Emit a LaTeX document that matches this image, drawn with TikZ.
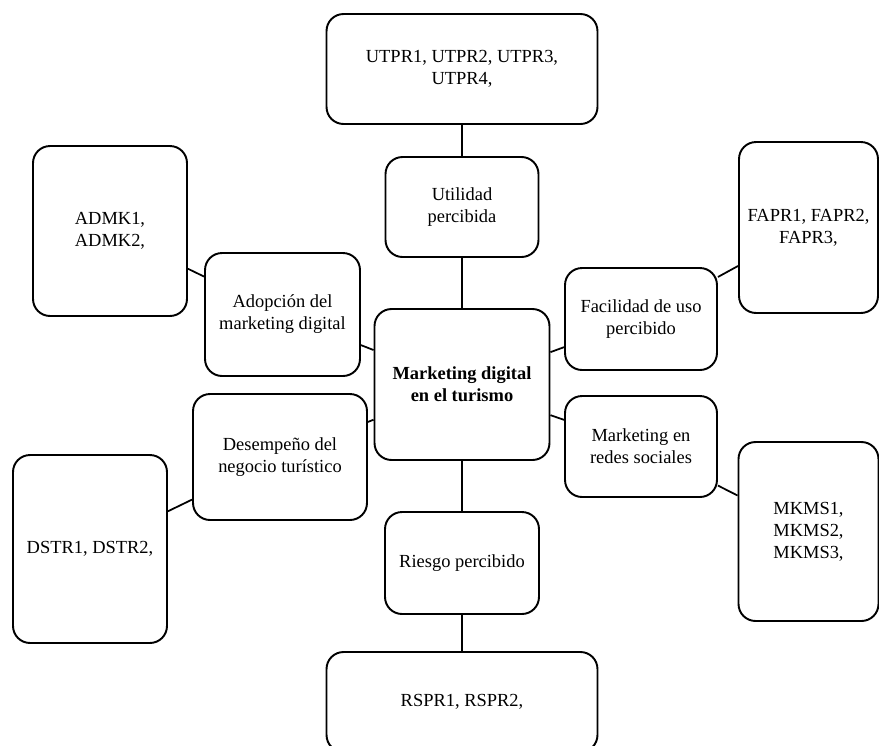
\documentclass[tikz,border=0pt]{standalone}
\usepackage{fontspec}
\setmainfont{Liberation Serif}

\begin{document}
\begin{tikzpicture}[x=0.02cm, y=-0.02cm,
    caja/.style={draw, line width=1.1pt, rounded corners=0.34cm, align=center,
        inner sep=0pt, font=\fontsize{10.5}{12.5}\selectfont},
    linea/.style={line width=1pt}]
        % Marco de la figura
        \useasboundingbox (0,0) rectangle (879,745);

        % Concepto central
        \node[caja, minimum width=3.5cm, minimum height=3.02cm,
        font=\fontsize{10.5}{12.5}\selectfont\bfseries] (central) at (462,384.5)
        {Marketing digital\\en el turismo};

        % Columna central: utilidad y riesgo
        \node[caja, minimum width=5.42cm, minimum height=2.2cm] (utpr) at (462,69)
        {UTPR1, UTPR2, UTPR3,\\UTPR4,};
        \node[caja, minimum width=3.06cm, minimum height=2cm] (utilidad) at (462,207)
        {Utilidad\\percibida};
        \node[caja, minimum width=3.08cm, minimum height=2.04cm] (riesgo) at (462,563)
        {Riesgo percibido};
        \node[caja, minimum width=5.42cm, minimum height=2cm] (rspr) at (462,702)
        {RSPR1, RSPR2,};

        % Lado izquierdo
        \node[caja, minimum width=3.08cm, minimum height=3.4cm] (admk) at (110,231)
        {ADMK1,\\ADMK2,};
        \node[caja, minimum width=3.1cm, minimum height=2.46cm] (adopcion) at (282.5,314.5)
        {Adopción del\\marketing digital};
        \node[caja, minimum width=3.48cm, minimum height=2.52cm] (desempeno) at (280,457)
        {Desempeño del\\negocio turístico};
        \node[caja, minimum width=3.08cm, minimum height=3.76cm] (dstr) at (90,549)
        {DSTR1, DSTR2,};

        % Lado derecho
        \node[caja, minimum width=3.04cm, minimum height=2.04cm] (facilidad) at (641,319)
        {Facilidad de uso\\percibido};
        \node[caja, minimum width=2.78cm, minimum height=3.42cm] (fapr) at (808.5,227.5)
        {FAPR1, FAPR2,\\FAPR3,};
        \node[caja, minimum width=3.04cm, minimum height=2.02cm] (redes) at (641,446.5)
        {Marketing en\\redes sociales};
        \node[caja, minimum width=2.8cm, minimum height=3.58cm] (mkms) at (808.5,531.5)
        {MKMS1,\\MKMS2,\\MKMS3,};

        % Conectores
        \draw[linea] (utpr) -- (utilidad);
        \draw[linea] (utilidad) -- (central);
        \draw[linea] (central) -- (riesgo);
        \draw[linea] (riesgo) -- (rspr);
        \draw[linea] (admk) -- (adopcion);
        \draw[linea] (adopcion) -- (central);
        \draw[linea] (dstr) -- (desempeno);
        \draw[linea] (desempeno) -- (central);
        \draw[linea] (central) -- (facilidad);
        \draw[linea] (facilidad) -- (fapr);
        \draw[linea] (central) -- (redes);
        \draw[linea] (redes) -- (mkms);
    \end{tikzpicture}
\end{document}
